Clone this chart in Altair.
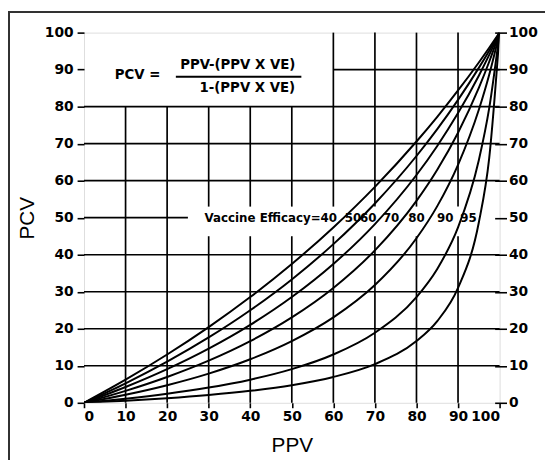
import altair as alt
import pandas as pd

# ---- data ----
ppv = [0, 10, 20, 30, 40, 50, 60, 70, 80, 85, 90, 95, 97.5, 100]
pcv_40 = [0, 6.25, 13.04, 20.45, 28.57, 37.5, 47.37, 58.33, 70.59, 77.27, 84.38, 91.94, 95.90, 100]
pcv_50 = [0, 5.26, 11.11, 17.65, 25.0, 33.33, 42.86, 53.85, 66.67, 73.91, 81.82, 90.48, 95.12, 100]
pcv_60 = [0, 4.26, 9.09, 14.63, 21.05, 28.57, 37.5, 48.28, 61.54, 69.39, 78.26, 88.37, 93.98, 100]
pcv_70 = [0, 3.23, 6.98, 11.39, 16.67, 23.08, 31.03, 41.18, 54.55, 62.96, 72.97, 85.07, 92.13, 100]
pcv_80 = [0, 2.17, 4.76, 7.89, 11.76, 16.67, 23.08, 31.82, 44.44, 53.13, 64.29, 79.17, 88.64, 100]
pcv_90 = [0, 1.10, 2.44, 4.11, 6.25, 9.09, 13.04, 18.92, 28.57, 36.17, 47.37, 65.52, 79.59, 100]
pcv_95 = [0, 0.55, 1.23, 2.10, 3.23, 4.76, 6.98, 10.45, 16.67, 22.08, 31.03, 48.72, 66.10, 100]

efficacy = [40, 50, 60, 70, 80, 90, 95]
series = [pcv_40, pcv_50, pcv_60, pcv_70, pcv_80, pcv_90, pcv_95]

ticks = list(range(0, 101, 10))

# grid segments (the reference leaves gaps for the formula box and the label row)
grid_v_x = [10, 20, 30, 30, 40, 40, 50, 50, 60, 60, 70, 70, 80, 80, 90, 90]
grid_v_y1 = [0, 0, 0, 53, 0, 53, 0, 53, 0, 53, 0, 53, 0, 53, 0, 53]
grid_v_y2 = [80, 80, 45, 80, 45, 80, 45, 80, 45, 100, 45, 100, 45, 100, 45, 100]
grid_h_y = [10, 20, 30, 40, 60, 70, 80, 90, 50]
grid_h_x1 = [0, 0, 0, 0, 0, 0, 0, 60, 0]
grid_h_x2 = [100, 100, 100, 100, 100, 100, 100, 100, 25]

# ---- tables ----
rows = []
for ve, vals in zip(efficacy, series):
    for x, y in zip(ppv, vals):
        rows.append({"PPV": x, "PCV": y, "VE": ve})
curves_df = pd.DataFrame(rows)

gv = pd.DataFrame({"x": grid_v_x, "y1": grid_v_y1, "y2": grid_v_y2})
gh = pd.DataFrame({"y": grid_h_y, "x1": grid_h_x1, "x2": grid_h_x2})
axis_df = pd.DataFrame({"PPV": ticks, "PCV": ticks})

XS = alt.Scale(domain=[0, 100], nice=False, zero=False)
YS = alt.Scale(domain=[0, 100], nice=False, zero=False)

LBL = dict(labelFont="DejaVu Sans", labelFontWeight="bold", labelFontSize=14,
           labelColor="black", tickColor="black", tickWidth=1.6,
           domain=False, grid=False,
           titleFont="Liberation Sans", titleFontWeight="normal",
           titleFontSize=21, titleColor="black")

x_axis = alt.Axis(values=ticks, title="PPV", orient="bottom", tickSize=5,
                  labelPadding=2, titlePadding=11, **LBL)
y_left = alt.Axis(values=ticks, title="PCV", orient="left", tickSize=7,
                  labelPadding=4, titlePadding=7, **LBL)
y_right = alt.Axis(values=ticks, title=None, orient="right", tickSize=12,
                   offset=-5, labelPadding=2, **LBL)


def X(field):
    return alt.X(field, scale=XS, axis=x_axis, title="PPV")


base_axes = alt.Chart(axis_df).mark_point(opacity=0).encode(
    x=X("PPV:Q"),
    y=alt.Y("PCV:Q", scale=YS, axis=y_left),
)
right_axis = alt.Chart(axis_df).mark_point(opacity=0).encode(
    x=X("PPV:Q"),
    y=alt.Y("PCV:Q", scale=YS, axis=y_right),
)

vgrid = alt.Chart(gv).mark_rule(color="black", strokeWidth=1.7).encode(
    x=X("x:Q"),
    y=alt.Y("y1:Q", scale=YS, axis=None),
    y2="y2:Q",
)
hgrid = alt.Chart(gh).mark_rule(color="black", strokeWidth=1.7).encode(
    y=alt.Y("y:Q", scale=YS, axis=None),
    x=X("x1:Q"),
    x2="x2:Q",
)

curves = alt.Chart(curves_df).mark_line(
    color="black", strokeWidth=2, interpolate="monotone", clip=True
).encode(
    x=X("PPV:Q"),
    y=alt.Y("PCV:Q", scale=YS, axis=None),
    detail="VE:N",
)

# ---- annotations ----
fml_font = dict(font="DejaVu Sans", fontWeight="bold", color="black")


def txt(xv, yv, t, size, align="center"):
    return alt.Chart(pd.DataFrame({"x": xv, "y": yv, "t": t})).mark_text(
        fontSize=size, align=align, baseline="middle", **fml_font
    ).encode(x=X("x:Q"), y=alt.Y("y:Q", scale=YS, axis=None), text="t:N")


pcv_eq = txt([12.9], [88.5], ["PCV ="], 13.5)
numer = txt([37.0], [91.3], ["PPV-(PPV X VE)"], 13.5)
denom = txt([39.3], [85.0], ["1-(PPV X VE)"], 13.5)
frac = alt.Chart(pd.DataFrame({"x1": [22.1], "x2": [52.3], "y": [88.1]})).mark_rule(
    color="black", strokeWidth=2
).encode(x=X("x1:Q"), x2="x2:Q", y=alt.Y("y:Q", scale=YS, axis=None))

lab_head = txt([29.0], [50.0], ["Vaccine Efficacy=40"], 12, align="left")
lab_nums = txt([64.7, 68.4, 73.9, 80.0, 86.9, 92.5], [50.0] * 6,
               [str(v) for v in efficacy[1:]], 12)

# outer frame (top and left edges only, as in the scan)
frame_top = alt.Chart(axis_df).mark_rule(color="#333333", strokeWidth=1.5).encode(
    x=alt.value(-77), x2=alt.value(470), y=alt.value(-21.2))
frame_left = alt.Chart(axis_df).mark_rule(color="#333333", strokeWidth=1.5).encode(
    x=alt.value(-76.2), y=alt.value(-22), y2=alt.value(440))

chart = alt.layer(
    base_axes, right_axis, vgrid, hgrid, curves,
    pcv_eq, numer, denom, frac, lab_head, lab_nums,
    frame_top, frame_left,
).resolve_axis(y="independent").properties(
    width=421, height=375,
    autosize=alt.AutoSizeParams(type="none"),
    padding={"left": 77, "top": 22, "right": 46, "bottom": 55},
).configure_view(stroke="black", strokeWidth=2.2).configure(background="white")

chart.save("out.html", embed_options={"renderer": "svg", "actions": False})
